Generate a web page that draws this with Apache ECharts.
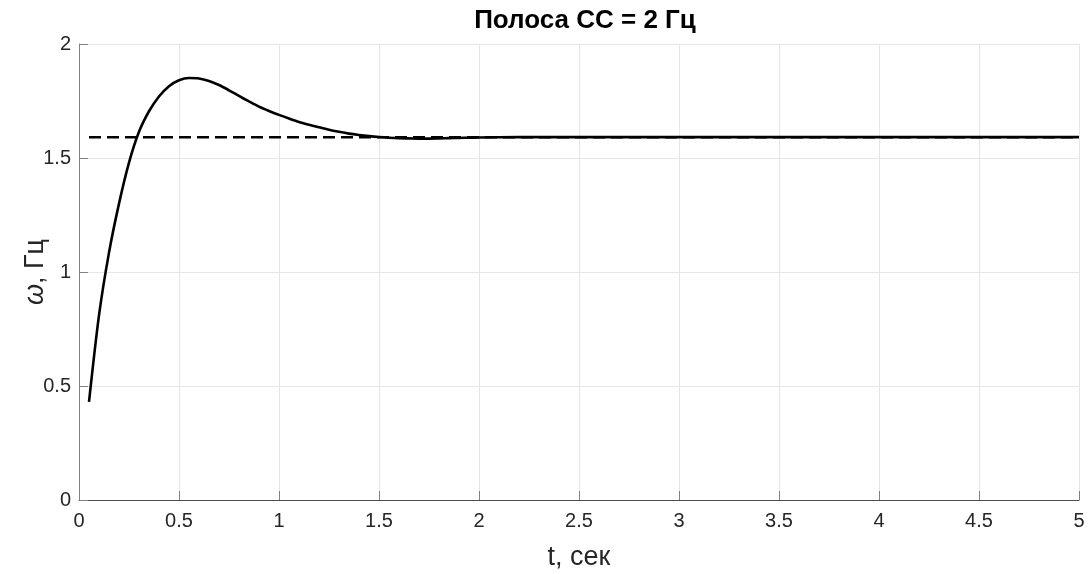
<!DOCTYPE html>
<html>
<head>
<meta charset="utf-8">
<script src="https://cdn.jsdelivr.net/npm/echarts@6/dist/echarts.min.js"></script>
<style>
  html, body { margin: 0; padding: 0; background: #ffffff; }
  #chart { width: 1089px; height: 574px; }
</style>
</head>
<body>
<div id="chart"></div>
<script>
// Frequency response of the tracking loop, time in seconds
const timeSec = [0.05, 0.10, 0.15, 0.20, 0.25, 0.30, 0.35, 0.40, 0.45, 0.50,
  0.55, 0.60, 0.65, 0.70, 0.75, 0.80, 0.85, 0.90, 0.95, 1.00,
  1.05, 1.10, 1.15, 1.20, 1.25, 1.30, 1.35, 1.40, 1.45, 1.50,
  1.55, 1.60, 1.65, 1.70, 1.75, 1.80, 1.85, 1.90, 1.95, 2.00,
  2.2, 2.5, 3.0, 3.5, 4.0, 4.5, 5.0];
const omegaHz = [0.43, 0.81, 1.085, 1.30, 1.48, 1.615, 1.705, 1.77, 1.815, 1.841,
  1.851, 1.849, 1.838, 1.82, 1.797, 1.772, 1.748, 1.725, 1.706, 1.689,
  1.673, 1.658, 1.646, 1.635, 1.624, 1.615, 1.607, 1.601, 1.596, 1.592,
  1.589, 1.587, 1.586, 1.585, 1.585, 1.586, 1.587, 1.588, 1.589, 1.590,
  1.5915, 1.5915, 1.5915, 1.5915, 1.5915, 1.5915, 1.5915];

// Steady-state reference level
const refTime = [0.05, 5.0];
const refLevel = [1.5915, 1.5915];

const xTicks = [0, 0.5, 1, 1.5, 2, 2.5, 3, 3.5, 4, 4.5, 5];
const yTicks = [0, 0.5, 1, 1.5, 2];

const titleText = 'Полоса СС = 2 Гц';
const xName = 't, сек';

const curveData = timeSec.map((t, i) => [t, omegaHz[i]]);
const refData = refTime.map((t, i) => [t, refLevel[i]]);

const FONT = '"Liberation Sans", Arial, sans-serif';
const TXT = '#262626';

const chart = echarts.init(document.getElementById('chart'), null, { renderer: 'canvas' });
chart.setOption({
  animation: false,
  backgroundColor: '#ffffff',
  title: {
    text: titleText,
    left: 580,
    textAlign: 'center',
    top: 3,
    textStyle: { fontFamily: FONT, fontWeight: 'bold', fontSize: 26, color: '#000000' }
  },
  grid: { left: 79, right: 10, top: 44, bottom: 74, containLabel: false, outerBoundsMode: 'none' },
  xAxis: {
    type: 'value',
    min: xTicks[0],
    max: xTicks[xTicks.length - 1],
    interval: 0.5,
    name: xName,
    nameLocation: 'middle',
    nameGap: 44,
    nameMoveOverlap: false,
    nameTextStyle: { fontFamily: FONT, fontSize: 27, color: TXT },
    axisLine: { show: true, onZero: false, lineStyle: { color: '#4d4d4d', width: 1 } },
    axisTick: { show: true, inside: true, length: 9, lineStyle: { color: '#808080' } },
    axisLabel: {
      fontFamily: FONT, fontSize: 20, color: TXT, margin: 11,
      formatter: v => String(v)
    },
    splitLine: { show: true, lineStyle: { color: '#e6e6e6', width: 1 } }
  },
  yAxis: {
    type: 'value',
    min: yTicks[0],
    max: yTicks[yTicks.length - 1],
    interval: 0.5,
    name: '{i|ω}, Гц',
    nameLocation: 'middle',
    nameGap: 30,
    nameRotate: 90,
    nameMoveOverlap: false,
    nameTextStyle: {
      fontFamily: FONT, fontSize: 27, color: TXT,
      rich: { i: { fontFamily: FONT, fontStyle: 'italic', fontSize: 27, color: TXT } }
    },
    axisLine: { show: true, onZero: false, lineStyle: { color: '#808080', width: 1 } },
    axisTick: { show: true, inside: true, length: 9, lineStyle: { color: '#808080' } },
    axisLabel: {
      fontFamily: FONT, fontSize: 20, color: TXT, margin: 8,
      formatter: v => String(v)
    },
    splitLine: { show: true, lineStyle: { color: '#e6e6e6', width: 1 } }
  },
  series: [
    {
      name: 'ref',
      type: 'line',
      data: refData,
      showSymbol: false,
      symbol: 'none',
      lineStyle: { color: '#000000', width: 2.5, type: [12, 6] },
      z: 2
    },
    {
      name: 'omega',
      type: 'line',
      data: curveData,
      showSymbol: false,
      symbol: 'none',
      smooth: 0.3,
      lineStyle: { color: '#000000', width: 2.6 },
      z: 3
    }
  ]
});
</script>
</body>
</html>
